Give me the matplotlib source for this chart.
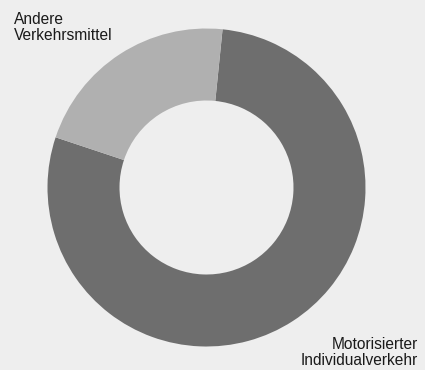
import matplotlib.pyplot as plt

# Modal split shares (percent)
labels = ["Motorisierter\nIndividualverkehr", "Andere\nVerkehrsmittel"]
shares = [78.5, 21.5]
colors = ["#6e6e6e", "#b0b0b0"]

plt.rcParams['font.family'] = ['Liberation Sans', 'DejaVu Sans']

W, H = 425, 370
fig = plt.figure(figsize=(W / 100, H / 100), dpi=100, facecolor="#eeeeee")
ax = fig.add_axes([0, 0, 1, 1])
ax.set_facecolor("#eeeeee")

# donut, drawn in pixel-like data units
ax.pie(shares, colors=colors, startangle=84.2, counterclock=False,
       radius=159, center=(206.5, H - 187.5),
       wedgeprops=dict(width=72, linewidth=0))

ax.set_xlim(0, W)
ax.set_ylim(0, H)
ax.set_aspect('equal')
ax.axis('off')

ax.text(14, H - 12, labels[1], ha='left', va='top', fontsize=11.2,
        color="#1a1a1a", linespacing=1.05)
ax.text(418, H - 337, labels[0], ha='right', va='top', fontsize=11.2,
        color="#1a1a1a", linespacing=1.05, multialignment='right')

plt.savefig('out.png', dpi=100, facecolor=fig.get_facecolor())
